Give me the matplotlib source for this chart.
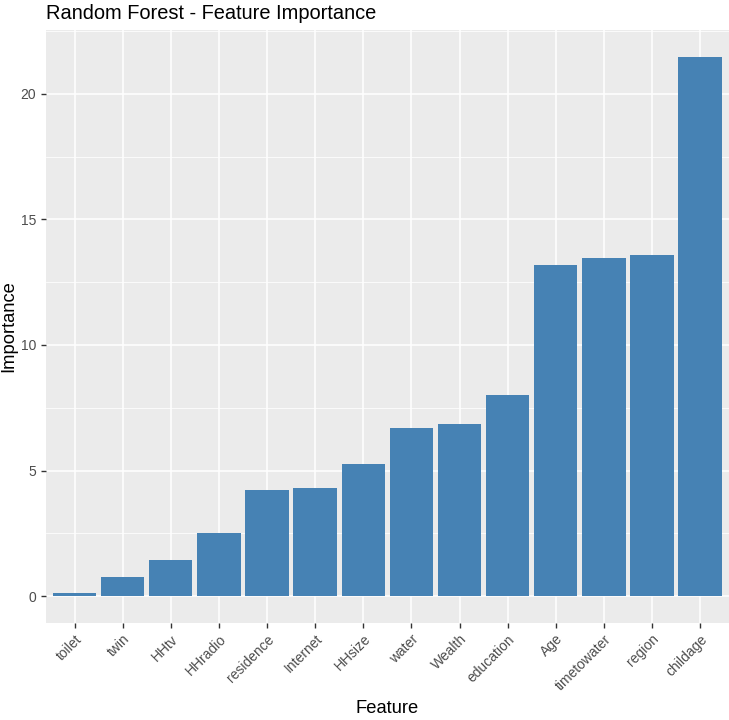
import matplotlib
matplotlib.use("Agg")
import matplotlib.pyplot as plt
from matplotlib.ticker import MultipleLocator

features = ["toilet", "twin", "HHtv", "HHradio", "residence", "Internet", "HHsize",
            "water", "Wealth", "education", "Age", "timetowater", "region", "childage"]
importance = [0.12, 0.76, 1.45, 2.51, 4.21, 4.29, 5.26, 6.71, 6.85, 8.0,
              13.17, 13.47, 13.6, 21.47]

plt.rcParams['font.family'] = ['Liberation Sans', 'DejaVu Sans']

fig = plt.figure(figsize=(7.29, 7.2), dpi=100)
ax = fig.add_axes([0.0626, 0.1347, 0.9374, 0.8236])
ax.set_facecolor('#EBEBEB')

x = list(range(1, len(features) + 1))
ax.bar(x, importance, width=0.9, color='#4682B4', zorder=3)

ax.set_xlim(0.4, len(features) + 0.6)
ymax = max(importance)
ax.set_ylim(-0.05 * ymax, ymax * 1.05)
ax.yaxis.set_major_locator(MultipleLocator(5))
ax.yaxis.set_minor_locator(MultipleLocator(2.5))
ax.set_xticks(x)
ax.set_xticklabels(features, rotation=45, ha='right', rotation_mode='anchor')

ax.grid(which='major', color='white', linewidth=1.1, zorder=0)
ax.grid(which='minor', axis='y', color='white', linewidth=0.55, zorder=0)
for s in ax.spines.values():
    s.set_visible(False)
ax.tick_params(axis='both', which='major', length=3.5, width=1, color='#333333',
               labelcolor='#4D4D4D', labelsize=10)
ax.tick_params(axis='x', pad=3)
ax.tick_params(which='minor', length=0)

ax.set_xlabel('Feature', fontsize=13.2, color='black', labelpad=5)
ax.set_ylabel('Importance', fontsize=13.2, color='black', labelpad=2)
fig.text(0.0626, 0.994, 'Random Forest - Feature Importance', fontsize=14.4,
         ha='left', va='top', color='black')

fig.savefig('out.png', dpi=100)
